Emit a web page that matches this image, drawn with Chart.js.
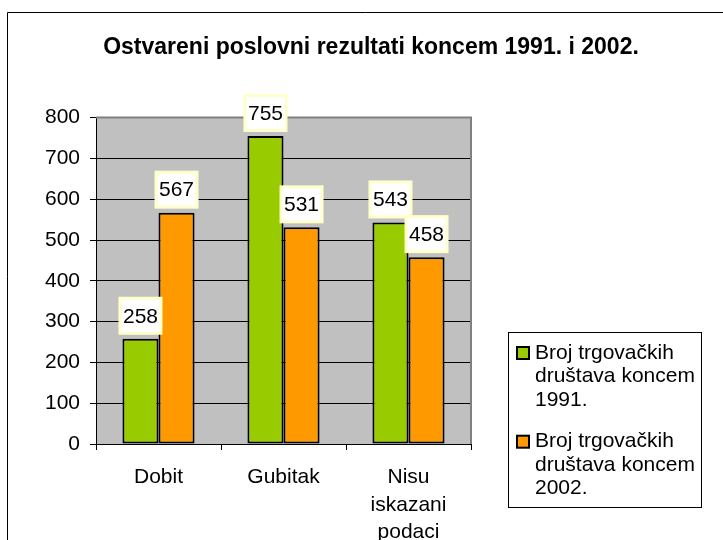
<!DOCTYPE html>
<html>
<head>
<meta charset="utf-8">
<script src="https://cdn.jsdelivr.net/npm/chart.js@4.4.0/dist/chart.umd.min.js"></script>
<style>
    body { margin: 0; background: #fff; }
    #wrap { position: relative; width: 723px; height: 540px; }
</style>
</head>
<body>
<div id="wrap"><canvas id="myChart" width="723" height="540"></canvas></div>
<script>
const categories = ['Dobit', 'Gubitak', ['Nisu', 'iskazani', 'podaci']];
const values1991 = [258, 755, 543];
const values2002 = [567, 531, 458];
const seriesNames = [
    ['Broj trgovačkih', 'društava koncem', '1991.'],
    ['Broj trgovačkih', 'društava koncem', '2002.']
];
const yTicks = [0, 100, 200, 300, 400, 500, 600, 700, 800];
const chartTitle = 'Ostvareni poslovni rezultati koncem 1991. i 2002.';

const FONT = "'Liberation Sans', Arial, sans-serif";

// gray plot area, frame and title
const backgroundPlugin = {
    id: 'excelBackground',
    beforeDraw(chart) {
        const ctx = chart.ctx;
        const a = chart.chartArea;
        ctx.save();
        ctx.fillStyle = '#fff';
        ctx.fillRect(0, 0, chart.width, chart.height);
        ctx.fillStyle = '#c0c0c0';
        ctx.fillRect(a.left, a.top, a.right - a.left, a.bottom - a.top);

        // outer frame (only left and top are visible)
        ctx.strokeStyle = '#000';
        ctx.lineWidth = 1;
        ctx.beginPath();
        ctx.moveTo(7.5, chart.height);
        ctx.lineTo(7.5, 12.5);
        ctx.lineTo(chart.width, 12.5);
        ctx.stroke();

        ctx.fillStyle = '#000';
        ctx.font = 'bold 23px ' + FONT;
        ctx.textAlign = 'center';
        ctx.textBaseline = 'middle';
        ctx.fillText(chartTitle, 371, 48);
        ctx.restore();
    },
    beforeDatasetsDraw(chart) {
        const ctx = chart.ctx;
        const a = chart.chartArea;
        ctx.save();
        ctx.strokeStyle = '#808080';
        ctx.lineWidth = 2;
        ctx.beginPath();
        ctx.moveTo(a.left, a.top);
        ctx.lineTo(a.right, a.top);
        ctx.lineTo(a.right, a.bottom);
        ctx.stroke();
        ctx.restore();
    }
};

// value boxes above the bars
const labelPlugin = {
    id: 'valueBoxes',
    afterDatasetsDraw(chart) {
        const ctx = chart.ctx;
        ctx.save();
        ctx.font = '21px ' + FONT;
        ctx.textAlign = 'center';
        ctx.textBaseline = 'middle';
        chart.data.datasets.forEach(function (ds, i) {
            const meta = chart.getDatasetMeta(i);
            meta.data.forEach(function (bar, j) {
                const cy = bar.y - 23;
                const w = 41, h = 35;
                ctx.fillStyle = '#fff';
                ctx.fillRect(bar.x - w / 2, cy - h / 2, w, h);
                ctx.strokeStyle = '#ffffcc';
                ctx.lineWidth = 3;
                ctx.strokeRect(bar.x - w / 2, cy - h / 2, w, h);
                ctx.fillStyle = '#000';
                ctx.fillText(String(ds.data[j]), bar.x, cy + 1);
            });
        });
        ctx.restore();
    }
};

// legend with wrapped names, boxed on the right
const legendPlugin = {
    id: 'boxLegend',
    afterDraw(chart) {
        const ctx = chart.ctx;
        const box = { x: 508.5, y: 332.5, w: 193, h: 175 };
        const firstLine = [353, 441.7];
        const lineStep = 23.5;
        ctx.save();
        ctx.fillStyle = '#fff';
        ctx.fillRect(box.x, box.y, box.w, box.h);
        ctx.strokeStyle = '#000';
        ctx.lineWidth = 1;
        ctx.strokeRect(box.x, box.y, box.w, box.h);
        ctx.font = '21px ' + FONT;
        ctx.textAlign = 'left';
        ctx.textBaseline = 'middle';
        chart.data.datasets.forEach(function (ds, i) {
            const y0 = firstLine[i];
            ctx.fillStyle = ds.backgroundColor;
            ctx.fillRect(517, y0 - 6, 12, 12);
            ctx.strokeStyle = '#000';
            ctx.lineWidth = 2;
            ctx.strokeRect(517, y0 - 6, 12, 12);
            ctx.fillStyle = '#000';
            seriesNames[i].forEach(function (line, k) {
                ctx.fillText(line, 535, y0 + k * lineStep);
            });
        });
        ctx.restore();
    }
};

function createBarChart() {
    const ctx = document.getElementById('myChart').getContext('2d');
    return new Chart(ctx, {
        type: 'bar',
        data: {
            labels: categories,
            datasets: [{
                label: seriesNames[0].join(' '),
                data: values1991,
                backgroundColor: '#99cc00',
                borderColor: '#000',
                borderWidth: 2,
                borderSkipped: false
            }, {
                label: seriesNames[1].join(' '),
                data: values2002,
                backgroundColor: '#ff9900',
                borderColor: '#000',
                borderWidth: 2,
                borderSkipped: false
            }]
        },
        options: {
            responsive: false,
            animation: false,
            events: [],
            categoryPercentage: 0.577,
            barPercentage: 1,
            layout: {
                padding: { top: 117.6, right: 252, bottom: 0, left: 0 }
            },
            plugins: {
                legend: { display: false },
                title: { display: false },
                tooltip: { enabled: false }
            },
            scales: {
                x: {
                    afterFit(scale) { scale.height = 96; },
                    grid: {
                        offset: true,
                        drawOnChartArea: false,
                        tickLength: 6,
                        color: '#000'
                    },
                    border: { color: '#000', width: 1 },
                    ticks: {
                        color: '#000',
                        padding: 14,
                        maxRotation: 0,
                        font: { family: FONT, size: 21, lineHeight: 1.3 }
                    }
                },
                y: {
                    min: yTicks[0],
                    max: yTicks[yTicks.length - 1],
                    afterFit(scale) { scale.width = 96; },
                    afterBuildTicks(scale) {
                        scale.ticks = yTicks.map(function (v) { return { value: v }; });
                    },
                    grid: {
                        color: '#000',
                        lineWidth: 1,
                        tickLength: 6
                    },
                    border: { color: '#000', width: 1 },
                    ticks: {
                        color: '#000',
                        padding: 10,
                        font: { family: FONT, size: 21 }
                    }
                }
            }
        },
        plugins: [backgroundPlugin, labelPlugin, legendPlugin]
    });
}

createBarChart();
</script>
</body>
</html>
